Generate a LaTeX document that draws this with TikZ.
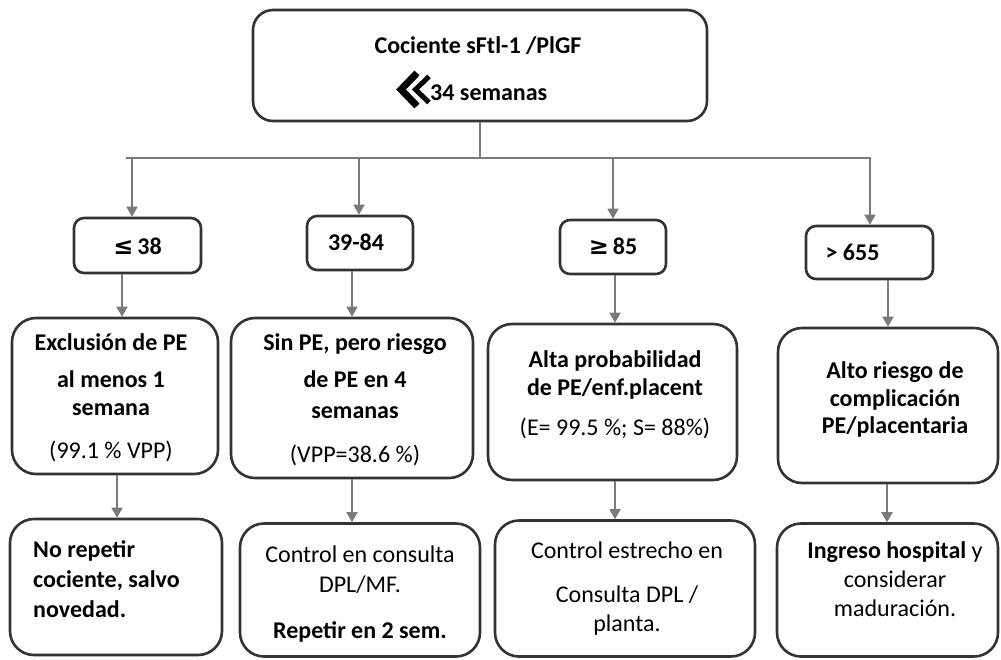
\documentclass[tikz,border=0pt]{standalone}
\usepackage{fontspec}
\setmainfont{Carlito}
\newfontfamily\symfont{DejaVu Sans}
\usetikzlibrary{arrows.meta}
\definecolor{boxc}{HTML}{333333}
\definecolor{linec}{HTML}{7A7A7A}
\tikzset{
  bigbox/.style={draw=boxc, line width=2.6pt, rounded corners=20pt, inner sep=0pt},
  smallbox/.style={draw=boxc, line width=2.6pt, rounded corners=10pt, inner sep=0pt},
  midbox/.style={draw=boxc, line width=2.6pt, rounded corners=24pt, inner sep=0pt},
  conn/.style={draw=linec, line width=1.8pt},
  arr/.style={conn, -{Triangle[length=10pt,width=11pt]}},
  txt/.style={anchor=base, inner sep=0pt, font=\fontsize{24}{28}\selectfont},
  btxt/.style={anchor=base, inner sep=0pt, font=\fontsize{24}{28}\selectfont\bfseries},
  chev/.style={line join=miter, line cap=butt}
}
\begin{document}
\begin{tikzpicture}[x=1pt,y=-1pt]
\useasboundingbox (0,0) rectangle (1001,659);
% boxes
\node[bigbox, minimum width=454pt, minimum height=111pt] (top) at (480,65.5) {};
\node[smallbox, minimum width=127pt, minimum height=55pt] (s1) at (137.5,245.5) {};
\node[smallbox, minimum width=106pt, minimum height=54pt] (s2) at (360,243) {};
\node[smallbox, minimum width=106pt, minimum height=54pt] (s3) at (613,247) {};
\node[smallbox, minimum width=127pt, minimum height=53pt] (s4) at (869.5,252.5) {};
\node[midbox, minimum width=206pt, minimum height=156pt] (m1) at (115,396) {};
\node[midbox, minimum width=242pt, minimum height=160pt] (m2) at (352,398) {};
\node[midbox, minimum width=249pt, minimum height=156pt] (m3) at (612.5,402) {};
\node[midbox, minimum width=220pt, minimum height=155pt] (m4) at (888,405.5) {};
\node[midbox, minimum width=212pt, minimum height=136pt] (b1) at (116,587) {};
\node[midbox, minimum width=240pt, minimum height=133pt] (b2) at (360,590) {};
\node[midbox, minimum width=260pt, minimum height=136pt] (b3) at (625,588.5) {};
\node[midbox, minimum width=221pt, minimum height=133pt] (b4) at (887.5,590) {};
% connectors
\coordinate (j0) at (480,158);
\coordinate (hl) at (126,158);
\coordinate (hr) at (871,158);
\coordinate (a1) at (132,158);
\coordinate (a2) at (359,158);
\coordinate (a3) at (613,158);
\coordinate (a4) at (870,158);
\draw[conn] (top.south) -- (j0);
\draw[conn] (hl) -- (hr);
\draw[arr] (a1) -- (a1 |- s1.north);
\draw[arr] (a2) -- (a2 |- s2.north);
\draw[arr] (a3) -- (a3 |- s3.north);
\draw[arr] (a4) -- (a4 |- s4.north);
\draw[arr] ([xshift=-15.5pt]s1.south) -- ([xshift=-15.5pt]s1.south |- m1.north);
\draw[arr] (s2.south -| m2.north) -- (m2.north);
\draw[arr] ([xshift=2pt]s3.south) -- ([xshift=2pt]s3.south |- m3.north);
\draw[arr] (s4.south -| m4.north) -- (m4.north);
\draw[arr] ([xshift=2pt]m1.south) -- ([xshift=2pt]m1.south |- b1.north);
\draw[arr] (m2.south) -- (m2.south |- b2.north);
\draw[arr] ([xshift=2.5pt]m3.south) -- ([xshift=2.5pt]m3.south |- b3.north);
\draw[arr] ([xshift=-1pt]m4.south) -- ([xshift=-1pt]m4.south |- b4.north);
% top text
\node[btxt] (tt1) at (478,53) {Cociente sFtl-1 /PlGF};
\node[btxt, anchor=base west] (tt2) at (430,100) {34 semanas};
\draw[chev, line width=7pt] (417,73) -- (401,89.5) -- (417,106);
\draw[chev, line width=5pt] (429,76.5) -- (415.5,89.5) -- (429,102.5);
% small box texts
\node[btxt] (s1t) at (137.5,254) {{\symfont\bfseries ≤}\,38};
\node[btxt] (s2t) at (356,250) {39-84};
\node[btxt] (s3t) at (613,254) {{\symfont\bfseries ≥}\,85};
\node[btxt] (s4t) at (852.5,260) {> 655};
% middle texts
\node[btxt] (m1a) at (111,350) {Exclusión de PE};
\node[btxt] (m1b) at (111,387) {al menos 1};
\node[btxt] (m1c) at (111,415) {semana};
\node[txt] (m1d) at (111,458) {(99.1 \% VPP)};
\node[btxt] (m2a) at (355,350) {Sin PE, pero riesgo};
\node[btxt] (m2b) at (355,387) {de PE en 4};
\node[btxt] (m2c) at (355,418) {semanas};
\node[txt] (m2d) at (355,462) {(VPP=38.6 \%)};
\node[btxt] (m3a) at (615,367) {Alta probabilidad};
\node[btxt] (m3b) at (615,395) {de PE/enf.placent};
\node[txt] (m3c) at (615,435) {(E= 99.5 \%; S= 88\%)};
\node[btxt] (m4a) at (895,378) {Alto riesgo de};
\node[btxt] (m4b) at (895,406) {complicación};
\node[btxt] (m4c) at (895,433) {PE/placentaria};
% bottom texts
\node[btxt, anchor=base west] (b1a) at (33,557) {No repetir};
\node[btxt, anchor=base west] (b1b) at (33,587) {cociente, salvo};
\node[btxt, anchor=base west] (b1c) at (33,617) {novedad.};
\node[txt] (b2a) at (360,562) {Control en consulta};
\node[txt] (b2b) at (360,592) {DPL/MF.};
\node[btxt] (b2c) at (360,638) {Repetir en 2 sem.};
\node[txt] (b3a) at (627,558) {Control estrecho en};
\node[txt] (b3b) at (627,602) {Consulta DPL /};
\node[txt] (b3c) at (627,631) {planta.};
\node[txt] (b4a) at (895,558) {\textbf{Ingreso hospital} y};
\node[txt] (b4b) at (895,587) {considerar};
\node[txt] (b4c) at (895,616) {maduración.};
\end{tikzpicture}
\end{document}
